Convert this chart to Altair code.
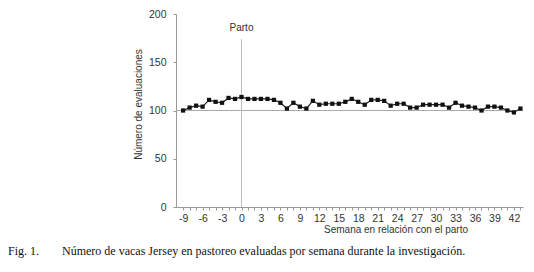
import altair as alt
import pandas as pd

weeks = list(range(-9, 44))
evaluations = [100, 103, 105, 104, 111, 109, 108, 113, 112, 114,
               112, 112, 112, 112, 111, 108, 102, 108, 104, 102,
               110, 106, 107, 107, 107, 109, 112, 109, 106, 111,
               111, 110, 105, 107, 107, 103, 103, 106, 106, 106,
               106, 103, 108, 105, 104, 103, 100, 104, 104, 103,
               100, 98, 102]
x_tick_labels = list(range(-9, 43, 3))
y_ticks = [0, 50, 100, 150, 200]
ref_level = [100]
parto_week = [0]
parto_top = [174]

df = pd.DataFrame({"semana": weeks, "n": evaluations})
FONT = "Liberation Sans"

x_scale = alt.Scale(domain=[-10.1, 43.4], nice=False, zero=False)
y_scale = alt.Scale(domain=[0, 200], nice=False)

x_axis = alt.Axis(
    values=weeks, title=None, grid=False,
    labelExpr="datum.value % 3 == 0 ? toString(datum.value) : ''",
    tickSize=3, tickColor="#999", domainColor="#999",
    labelFont=FONT, labelFontSize=10.5, labelColor="#333", labelPadding=3,
    labelFlush=False, labelOverlap=False,
)
y_axis = alt.Axis(
    values=y_ticks, title="Número de evaluaciones", grid=False,
    tickSize=3, tickColor="#999", domainColor="#999",
    labelFont=FONT, labelFontSize=10.5, labelColor="#333", labelPadding=7,
    titleFont=FONT, titleFontSize=10, titleFontWeight="normal", titleColor="#333",
    titlePadding=5, titleY=90,
)

base = alt.Chart(df)

hline = alt.Chart(pd.DataFrame({"y": ref_level})).mark_rule(
    color="#aaa", strokeWidth=1
).encode(y=alt.Y("y:Q", scale=y_scale, axis=y_axis))

vline = alt.Chart(pd.DataFrame({"x": parto_week, "y0": [0], "y1": parto_top})).mark_rule(
    color="#bbb", strokeWidth=1
).encode(
    x=alt.X("x:Q", scale=x_scale, axis=x_axis),
    y=alt.Y("y0:Q", scale=y_scale, axis=y_axis),
    y2="y1:Q",
)

line = base.mark_line(color="#222", strokeWidth=1.2).encode(
    x=alt.X("semana:Q", scale=x_scale, axis=x_axis),
    y=alt.Y("n:Q", scale=y_scale, axis=y_axis),
)
points = base.mark_square(color="#111", size=18, opacity=1).encode(
    x=alt.X("semana:Q", scale=x_scale, axis=x_axis),
    y=alt.Y("n:Q", scale=y_scale, axis=y_axis),
)

parto_label = alt.Chart(pd.DataFrame({"t": ["Parto"]})).mark_text(
    font=FONT, fontSize=10, color="#333", align="center", baseline="middle"
).encode(text="t:N", x=alt.value(65.5), y=alt.value(14))

x_title = alt.Chart(pd.DataFrame({"t": ["Semana en relación con el parto"]})).mark_text(
    font=FONT, fontSize=10, color="#333", align="center", baseline="middle"
).encode(text="t:N", x=alt.value(220), y=alt.value(216))

cap1 = alt.Chart(pd.DataFrame({"t": ["Fig. 1."]})).mark_text(
    font="Liberation Serif", fontSize=12, color="#111", align="left", baseline="middle"
).encode(text="t:N", x=alt.value(-168), y=alt.value(237))

cap2 = alt.Chart(pd.DataFrame({"t": ["Número de vacas Jersey en pastoreo evaluadas por semana durante la investigación."]})).mark_text(
    font="Liberation Serif", fontSize=12, color="#111", align="left", baseline="middle"
).encode(text="t:N", x=alt.value(-114), y=alt.value(237))

chart = alt.layer(hline, vline, line, points, parto_label, x_title, cap1, cap2).properties(
    width=347, height=193,
    autosize=alt.AutoSizeParams(type="none"),
    padding={"left": 168, "top": 6, "right": 3, "bottom": 58},
    background="white",
).configure_view(stroke=None)

chart.save("out.html", embed_options={"renderer": "svg", "actions": False})
